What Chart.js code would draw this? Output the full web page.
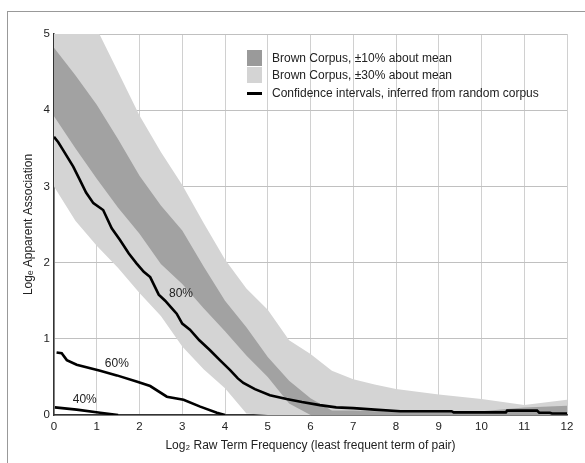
<!DOCTYPE html>
<html>
<head>
<meta charset="utf-8">
<script src="https://cdn.jsdelivr.net/npm/chart.js@4.4.1/dist/chart.umd.min.js"></script>
<style>
  html, body { margin: 0; padding: 0; background: #fff; }
  #wrap { position: relative; width: 585px; height: 463px; overflow: hidden; }
  #frame { position: absolute; left: 7px; top: 11px; width: 700px; height: 600px;
           border-left: 1px solid #999; border-top: 1px solid #999; }
  canvas { position: absolute; left: 0; top: 0; }
</style>
</head>
<body>
<div id="wrap">
  <div id="frame"></div>
  <canvas id="chart" width="585" height="463"></canvas>
</div>
<script>
// x positions shared by the gray bands
const bandX = [0, 0.5, 1, 1.5, 2, 2.5, 3, 3.5, 4, 4.5, 5, 5.5, 6, 6.5, 7, 7.5, 8, 9, 10, 11, 12];

// Brown Corpus, ±30% about mean (light band)
const light30Upper = [6.1, 5.6, 5.07, 4.5, 3.93, 3.45, 3.02, 2.52, 2.04, 1.66, 1.38, 0.98, 0.8, 0.58, 0.47, 0.4, 0.34, 0.27, 0.21, 0.13, 0.2];
const light30Lower = [3.0, 2.55, 2.22, 1.93, 1.6, 1.3, 0.9, 0.6, 0.35, 0.02, 0, 0, 0, 0, 0, 0, 0, 0, 0, 0, 0];

// Brown Corpus, ±10% about mean (dark band)
const dark10Upper = [4.82, 4.46, 4.07, 3.62, 3.14, 2.75, 2.42, 1.95, 1.5, 1.15, 0.76, 0.45, 0.22, 0.06, 0.06, 0.05, 0.05, 0.05, 0.05, 0.1, 0.12];
const dark10Lower = [3.92, 3.5, 3.1, 2.72, 2.38, 1.98, 1.72, 1.4, 1.1, 0.78, 0.5, 0.15, 0, 0, 0, 0, 0, 0, 0, 0, 0];

// confidence interval curves (random corpus)
const ci80X = [0, 0.1, 0.21, 0.45, 0.61, 0.75, 0.92, 1.15, 1.35, 1.54, 1.75, 1.93, 2.1, 2.25, 2.45, 2.6, 2.79, 2.87, 3.0, 3.18, 3.4, 3.65, 3.88, 4.12, 4.3, 4.43, 4.7, 5.05, 5.44, 5.8, 6.22, 6.6, 7.0, 7.5, 8.1, 9.3, 9.35, 10.57, 10.6, 11.3, 11.35, 11.6, 11.65, 12];
const ci80Y = [3.65, 3.58, 3.48, 3.26, 3.08, 2.92, 2.78, 2.69, 2.45, 2.3, 2.12, 1.99, 1.88, 1.81, 1.58, 1.5, 1.38, 1.33, 1.2, 1.12, 0.98, 0.85, 0.72, 0.59, 0.48, 0.42, 0.34, 0.26, 0.21, 0.17, 0.13, 0.1, 0.09, 0.07, 0.05, 0.05, 0.035, 0.035, 0.057, 0.057, 0.03, 0.03, 0.02, 0.02];

const ci60X = [0.06, 0.18, 0.3, 0.53, 1.08, 1.47, 1.93, 2.25, 2.64, 3.03, 3.42, 3.81, 4.0];
const ci60Y = [0.82, 0.81, 0.72, 0.66, 0.58, 0.52, 0.44, 0.38, 0.24, 0.2, 0.11, 0.03, 0];

const ci40X = [0.02, 0.53, 1.08, 1.5];
const ci40Y = [0.1, 0.07, 0.03, 0];

// curve labels
const curveLabels = ["80%", "60%", "40%"];
const curveLabelX = [2.97, 1.47, 0.72];
const curveLabelY = [1.59, 0.67, 0.2];

const xTicks = [0, 1, 2, 3, 4, 5, 6, 7, 8, 9, 10, 11, 12];
const yTicks = [0, 1, 2, 3, 4, 5];

const legendLabels = ["Brown Corpus, \u00b110% about mean", "Brown Corpus, \u00b130% about mean", "Confidence intervals, inferred from random corpus"];

const FONT = "'Liberation Sans', Arial, sans-serif";
const DARK = "#a2a2a2";
const LIGHT = "#d4d4d4";

function pts(xs, ys) {
    return xs.map((x, i) => ({ x: x, y: ys[i] }));
}

const lineStyle = {
    borderColor: "#000",
    borderWidth: 2.6,
    pointRadius: 0,
    fill: false,
    tension: 0
};

const bandStyle = {
    borderColor: "rgba(0,0,0,0)",
    borderWidth: 0,
    pointRadius: 0,
    tension: 0
};

// legend + curve labels drawn on the canvas
const extras = {
    id: "extras",
    afterDatasetsDraw(chart) {
        const ctx = chart.ctx;
        const xs = chart.scales.x, ys = chart.scales.y;
        ctx.save();
        ctx.font = "12px " + FONT;
        ctx.fillStyle = "#222";
        ctx.textAlign = "center";
        ctx.textBaseline = "middle";
        curveLabels.forEach((t, i) => {
            ctx.fillText(t, xs.getPixelForValue(curveLabelX[i]), ys.getPixelForValue(curveLabelY[i]));
        });

        // legend
        ctx.fillStyle = "#9a9a9a";
        ctx.fillRect(247, 50, 15, 16);
        ctx.fillStyle = LIGHT;
        ctx.fillRect(247, 67, 15, 16);
        ctx.fillStyle = "#000";
        ctx.fillRect(247, 92, 15, 3);
        ctx.textAlign = "left";
        ctx.fillStyle = "#222";
        ctx.fillText(legendLabels[0], 272, 58.5);
        ctx.fillText(legendLabels[1], 272, 75.5);
        ctx.fillText(legendLabels[2], 272, 93.5);
        ctx.restore();
    }
};

new Chart(document.getElementById("chart"), {
    type: "line",
    data: {
        datasets: [
            Object.assign({ label: "80%", data: pts(ci80X, ci80Y) }, lineStyle),
            Object.assign({ label: "60%", data: pts(ci60X, ci60Y) }, lineStyle),
            Object.assign({ label: "40%", data: pts(ci40X, ci40Y) }, lineStyle),
            Object.assign({ label: "dark upper", data: pts(bandX, dark10Upper), fill: "+1", backgroundColor: DARK }, bandStyle),
            Object.assign({ label: "dark lower", data: pts(bandX, dark10Lower), fill: false }, bandStyle),
            Object.assign({ label: "light upper", data: pts(bandX, light30Upper), fill: "+1", backgroundColor: LIGHT }, bandStyle),
            Object.assign({ label: "light lower", data: pts(bandX, light30Lower), fill: false }, bandStyle)
        ]
    },
    options: {
        responsive: false,
        animation: false,
        devicePixelRatio: 1,
        layout: { padding: { top: 34, right: 18, left: 0, bottom: 0 } },
        plugins: {
            legend: { display: false },
            tooltip: { enabled: false }
        },
        scales: {
            x: {
                type: "linear",
                min: 0,
                max: 12,
                afterFit: (s) => { s.height = 48; },
                afterBuildTicks: (s) => { s.ticks = xTicks.map(v => ({ value: v })); },
                grid: { color: "#d0d0d0", lineWidth: 1, drawTicks: false },
                border: { color: "#333", width: 1.5 },
                ticks: { font: { family: FONT, size: 11.5 }, color: "#222", padding: 5 },
                title: {
                    display: true,
                    text: "Log\u2082 Raw Term Frequency (least frequent term of pair)",
                    font: { family: FONT, size: 12 },
                    color: "#222",
                    padding: { top: 0, bottom: 10 }
                }
            },
            y: {
                type: "linear",
                min: 0,
                max: 5,
                afterFit: (s) => { s.width = 54; },
                afterBuildTicks: (s) => { s.ticks = yTicks.map(v => ({ value: v })); },
                grid: { color: "#c0c0c0", lineWidth: 1, drawTicks: false },
                border: { color: "#333", width: 1.5 },
                ticks: { font: { family: FONT, size: 11.5 }, color: "#222", padding: 4 },
                title: {
                    display: true,
                    text: "Log\u2091 Apparent Association",
                    font: { family: FONT, size: 12 },
                    color: "#222",
                    padding: { top: 21, bottom: 0 }
                }
            }
        }
    },
    plugins: [extras]
});
</script>
</body>
</html>
